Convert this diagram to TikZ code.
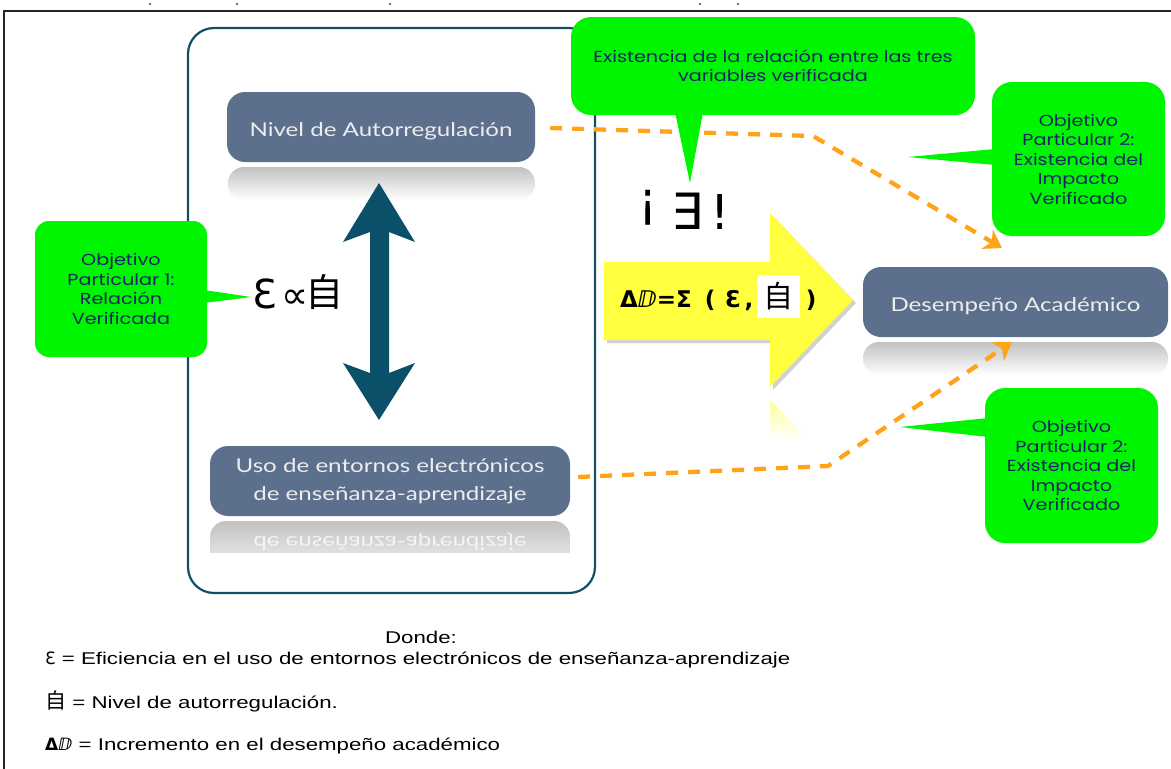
\documentclass[tikz,border=0pt]{standalone}
\usepackage{fontspec}
\setmainfont{Liberation Sans}[FakeStretch=1.31]
\newfontfamily\boxfont{Lato}[FakeStretch=1.27]
\newfontfamily\callfont{Poppins}[FakeStretch=1.2]
\newfontfamily\symfont{DejaVu Sans}
\newfontfamily\cjk{Noto Sans CJK SC}
\usetikzlibrary{arrows.meta,shadows}
\definecolor{teal0}{RGB}{20,78,100}
\definecolor{tealarrow}{RGB}{10,80,104}
\definecolor{slate}{RGB}{92,112,142}
\definecolor{cgreen}{RGB}{0,245,0}
\definecolor{navy}{RGB}{22,38,100}
\definecolor{orng}{RGB}{255,163,26}
\definecolor{yel}{RGB}{255,255,64}
\tikzset{
  slatebox/.style={rectangle, rounded corners=18pt, fill=slate, text=white!93!black,
    font=\boxfont\fontsize{19}{28}\selectfont, align=center, inner sep=0pt},
  callbox/.style={rectangle, rounded corners=14pt, fill=cgreen, text=navy,
    font=\callfont\fontsize{16}{19.5}\selectfont, align=center, inner sep=0pt},
  dashline/.style={draw=orng, line width=4.3pt, dash pattern=on 12pt off 10pt,
    -{Stealth[length=17pt,width=22pt,inset=5pt]}},
  refl/.style={top color=black!24, bottom color=white, rounded corners=16pt},
  legend/.style={anchor=base west, font=\fontsize{17}{20}\selectfont, inner sep=0pt},
  glyph/.style={anchor=base, inner sep=0pt},
}
\begin{document}
\begin{tikzpicture}[x=1pt,y=-1pt]
\useasboundingbox (0,0) rectangle (1171,769);
% top marks
\foreach \mx in {150,237,390,700,738} \fill[black!75] (\mx,4) circle (1.1pt);
% outer frame
\draw[line width=2.6pt, black!85] (4,769) -- (4,11) -- (1171,11);
% inner frame
\node[draw=teal0, line width=2.2pt, rounded corners=26pt, minimum width=407pt,
  minimum height=565pt, inner sep=0pt] (frame) at (391.5,310.5) {};

% reflections
\shade[refl] (228,167) rectangle (535,200);
\shade[refl] (863,342) rectangle (1168,375);
\begin{scope}
  \clip (210,521) rectangle (570,552);
  \shade[refl] (210,521) rectangle (570,585);
  \node[text=white, opacity=0.75, font=\boxfont\fontsize{19}{24}\selectfont] (mirror) at (390,542)
    {\scalebox{1}[-1]{de enseñanza-aprendizaje}};
\end{scope}

% slate boxes
\node[slatebox, minimum width=308pt, minimum height=70pt, text height=18pt, text depth=0pt] (nivel) at (381,127) {Nivel de Autorregulación};
\node[slatebox, minimum width=305pt, minimum height=70pt, text height=19pt, text depth=0pt] (desemp) at (1015.5,302) {Desempeño Académico};
\node[slatebox, minimum width=360pt, minimum height=70pt] (uso) at (390,481)
  {Uso de entornos electrónicos\\de enseñanza-aprendizaje};

% double arrow
\fill[tealarrow] (379,183) -- (415,242) -- (389,232) -- (389,373) -- (415,363) -- (379,420)
  -- (343,363) -- (370,373) -- (370,232) -- (343,242) -- cycle;

% relation symbols
\node[glyph, font=\symfont\fontsize{40}{40}\selectfont] (eps) at (265,308) {Ɛ};
\node[glyph, font=\symfont\fontsize{38}{38}\selectfont] (prop) at (295,308) {∝};
\node[glyph, font=\cjk\fontsize{38}{38}\selectfont] (ji) at (324,306) {自};

% yellow arrow
\fill[black, opacity=0.18] (607,265) -- (773,265) -- (773,216) -- (856,303) -- (773,390) -- (773,343) -- (607,343) -- cycle;
\fill[yel] (604,262) -- (770,262) -- (770,213) -- (853,300) -- (770,387) -- (770,340) -- (604,340) -- cycle;
\shade[top color=yel!55, bottom color=white] (770,400) -- (809,440) -- (770,440) -- cycle;
\node[glyph, font=\symfont\bfseries\fontsize{23}{23}\selectfont] (dd) at (656,307) {Δⅅ=Σ};
\node[glyph, font=\symfont\bfseries\fontsize{23}{23}\selectfont] (lp) at (710,307) {(};
\node[glyph, font=\symfont\bfseries\fontsize{23}{23}\selectfont] (ee) at (733,307) {Ɛ};
\node[glyph, font=\symfont\bfseries\fontsize{23}{23}\selectfont] (cm) at (749,307) {,};
\node[fill=white, minimum width=43pt, minimum height=43pt, inner sep=0pt,
  font=\cjk\fontsize{30}{30}\selectfont] (jibox) at (778.5,296.5) {自};
\node[glyph, font=\symfont\bfseries\fontsize{23}{23}\selectfont] (rp) at (811,307) {)};

% exists unique
\node[glyph, font=\symfont\fontsize{48}{48}\selectfont] (inv) at (648,216) {¡};
\node[glyph, font=\symfont\fontsize{50}{50}\selectfont] (ex) at (687,229) {∃};
\node[glyph, font=\symfont\fontsize{48}{48}\selectfont] (bang) at (720,229) {!};

% orange dashed connectors
\coordinate (b1) at (813,136);
\coordinate (t1) at (1002,248);
\coordinate (b2) at (828,466);
\coordinate (t2) at (1012,342);
\draw[dashline] ([xshift=15pt,yshift=-1pt]nivel.east) -- (b1) -- (t1);
\draw[dashline] ([xshift=8pt,yshift=4pt]uso.east) -- (b2) -- (t2);

% callouts
\node[callbox, minimum width=404pt, minimum height=98pt, rounded corners=20pt] (ctop) at (773,66)
  {Existencia de la relación entre las tres\\variables verificada};
\coordinate (ctoptip) at (690,183);
\fill[cgreen] (675,112) -- (ctoptip) -- (703,112) -- cycle;

\node[callbox, minimum width=172pt, minimum height=136pt] (cleft) at (121,289)
  {Objetivo\\Particular 1:\\Relación\\Verificada};
\coordinate (clefttip) at (251,297);
\fill[cgreen] (204,290) -- (clefttip) -- (204,303) -- cycle;

\node[callbox, minimum width=173pt, minimum height=154pt, rounded corners=20pt] (crt) at (1078.5,159)
  {Objetivo\\Particular 2:\\Existencia del\\Impacto\\Verificado};
\coordinate (crttip) at (908,157);
\fill[cgreen] (995,149) -- (crttip) -- (995,165) -- cycle;

\node[callbox, minimum width=173pt, minimum height=155pt, rounded corners=20pt] (crb) at (1071.5,465.5)
  {Objetivo\\Particular 2:\\Existencia del\\Impacto\\Verificado};
\coordinate (crbtip) at (900,427);
\fill[cgreen] (988,418) -- (crbtip) -- (988,437) -- cycle;

% legend
\node[anchor=base, inner sep=0pt, font=\fontsize{17}{20}\selectfont] (donde) at (421,643) {Donde:};
\node[legend] (lg1) at (45,664) {{\symfont Ɛ} = Eficiencia en el uso de entornos electrónicos de enseñanza-aprendizaje};
\node[legend] (lg2) at (45,708) {{\cjk\fontsize{21}{21}\selectfont 自} = Nivel de autorregulación.};
\node[legend] (lg3) at (45,750) {{\symfont\bfseries Δⅅ} = Incremento en el desempeño académico};
\end{tikzpicture}
\end{document}
